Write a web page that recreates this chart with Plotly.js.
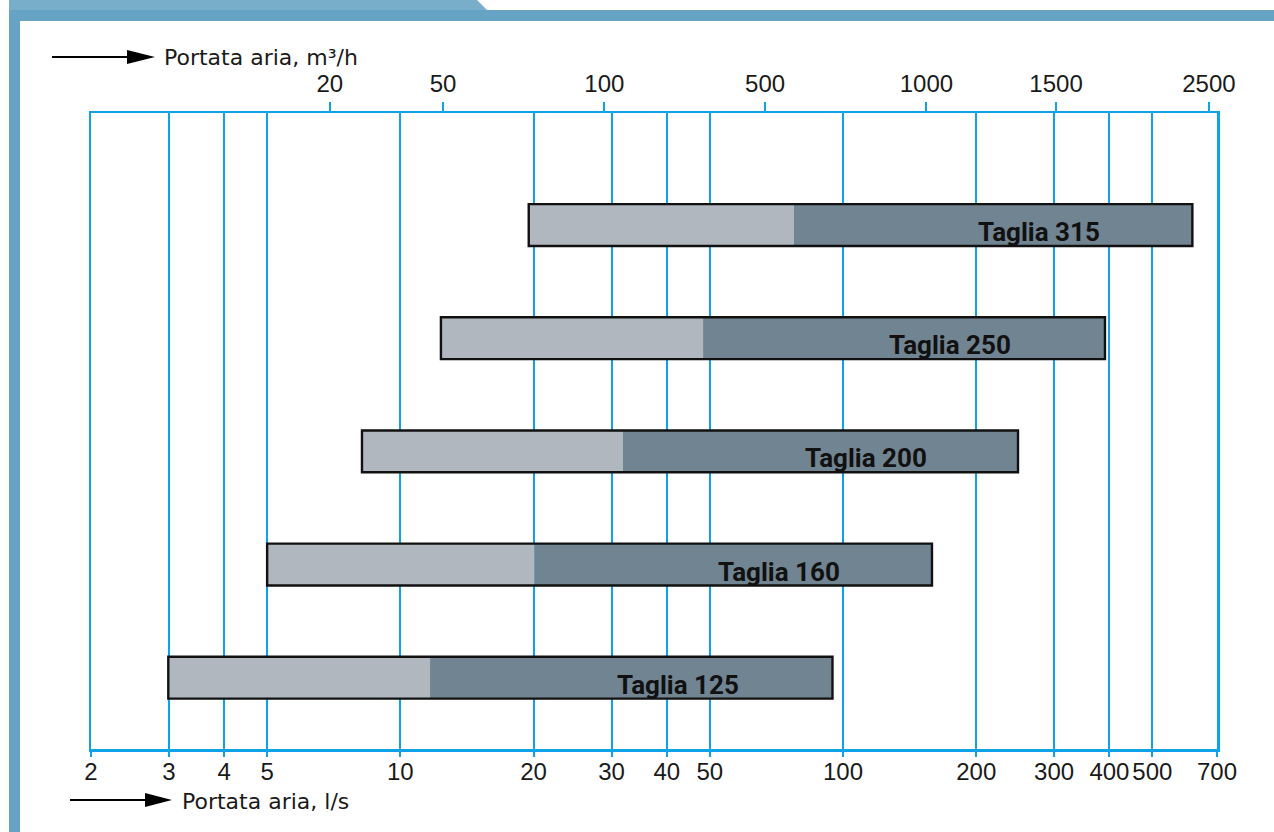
<!DOCTYPE html>
<html>
<head>
<meta charset="utf-8">
<script src="https://cdn.plot.ly/plotly-3.0.1.min.js"></script>
<style>
html,body{margin:0;padding:0;background:#fff;}
#chart{width:1274px;height:832px;}
</style>
</head>
<body>
<div id="chart"></div>
<script>
// ---- data (l/s) ----
var sizes = ['Taglia 125', 'Taglia 160', 'Taglia 200', 'Taglia 250', 'Taglia 315'];
var flowMin = [2.99, 5.0, 8.19, 12.35, 19.5];
var flowMid = [11.67, 20.1, 31.8, 48.3, 77.4];
var flowMax = [94.7, 158.9, 248.6, 390.8, 615.8];
var bottomTicks = [2, 3, 4, 5, 10, 20, 30, 40, 50, 100, 200, 300, 400, 500, 700];
var topTickText = ['20', '50', '100', '500', '1000', '1500', '2500'];
var topTickPos = [6.93, 12.49, 28.9, 66.7, 154.4, 303, 671];   // l/s positions of the m³/h labels

var blue = '#10a2e8';
var light = '#b0b7be';
var dark = '#718491';
var yIdx = sizes.map(function(_, i){ return i; });

var traces = [
  {type:'bar', orientation:'h', y:yIdx, base:flowMin,
   x:flowMin.map(function(v,i){return flowMid[i]-v;}),
   width:0.37, marker:{color:light, line:{width:0}}, hoverinfo:'skip', xaxis:'x', yaxis:'y'},
  {type:'bar', orientation:'h', y:yIdx, base:flowMid,
   x:flowMid.map(function(v,i){return flowMax[i]-v;}),
   width:0.37, marker:{color:dark, line:{width:0}}, hoverinfo:'skip', xaxis:'x', yaxis:'y'},
  {type:'bar', orientation:'h', y:yIdx, base:flowMin,
   x:flowMin.map(function(v,i){return flowMax[i]-v;}),
   width:0.37, marker:{color:'rgba(0,0,0,0)', line:{width:2.4, color:'#111'}}, hoverinfo:'skip', xaxis:'x', yaxis:'y'},
  // invisible trace to activate the top axis
  {type:'scatter', x:[2,700], y:[0,0], mode:'none', xaxis:'x2', yaxis:'y', hoverinfo:'skip', showlegend:false}
];

var W = 1274, H = 832, L = 91, R = 57, T = 113, B = 83;
var pw = W-L-R, ph = H-T-B;
function px(x){ return (x-L)/pw; }
function py(y){ return (H-B-y)/ph; }

var annotations = sizes.map(function(s,i){
  var lm = Math.log10(flowMid[i]), le = Math.log10(flowMax[i]);
  return {x: lm + 0.615*(le-lm), y: i, xref:'x', yref:'y', text: s, showarrow:false,
          yshift:-7, font:{family:'Roboto, sans-serif', size:26, color:'#111', weight:'bold'}};
});
annotations.push(
  {xref:'paper', yref:'paper', x:px(162), y:py(57), xanchor:'left', yanchor:'middle', showarrow:false,
   text:'Portata aria, m³/h', font:{family:'DejaVu Sans, sans-serif', size:22, color:'#1a1a1a'}},
  {xref:'paper', yref:'paper', x:px(180), y:py(801), xanchor:'left', yanchor:'middle', showarrow:false,
   text:'Portata aria, l/s', font:{family:'DejaVu Sans, sans-serif', size:22, color:'#1a1a1a'}}
);

var frameCol = '#66a3c4';
function tri(x0, x1, yc){
  return 'M '+px(x0)+','+py(yc-7)+' L '+px(x1)+','+py(yc)+' L '+px(x0)+','+py(yc+7)+' Z';
}
var shapes = [
  {type:'rect', xref:'paper', yref:'paper', x0:px(9), x1:px(20), y0:py(832), y1:py(10), fillcolor:frameCol, line:{width:0}, layer:'above'},
  {type:'rect', xref:'paper', yref:'paper', x0:px(9), x1:px(1274), y0:py(21), y1:py(10), fillcolor:frameCol, line:{width:0}, layer:'above'},
  {type:'path', xref:'paper', yref:'paper',
   path:'M '+px(9)+','+py(0)+' L '+px(477)+','+py(0)+' L '+px(487)+','+py(10)+' L '+px(9)+','+py(10)+' Z',
   fillcolor:'#79aecb', line:{width:0}, layer:'above'},
  // arrows
  {type:'line', xref:'paper', yref:'paper', x0:px(52), x1:px(130), y0:py(57), y1:py(57), line:{color:'#000', width:2}},
  {type:'path', xref:'paper', yref:'paper', path:tri(127, 155, 57), fillcolor:'#000', line:{width:0}},
  {type:'line', xref:'paper', yref:'paper', x0:px(70), x1:px(148), y0:py(800), y1:py(800), line:{color:'#000', width:2}},
  {type:'path', xref:'paper', yref:'paper', path:tri(145, 172, 800), fillcolor:'#000', line:{width:0}}
];

var layout = {
  width:W, height:H, margin:{l:L, r:R, t:T, b:B, pad:0},
  paper_bgcolor:'#fff', plot_bgcolor:'#fff',
  showlegend:false, barmode:'overlay',
  xaxis:{type:'log', range:[Math.log10(2), Math.log10(700)], tickmode:'array', tickvals:bottomTicks,
         ticktext:bottomTicks.map(String), showgrid:true, gridcolor:blue, gridwidth:2,
         ticks:'outside', ticklen:5, tickwidth:2, tickcolor:blue, ticklabelstandoff:-5,
         showline:true, linecolor:blue, linewidth:2.5, mirror:true, zeroline:false,
         tickfont:{family:'Liberation Sans, Arial, sans-serif', size:24, color:'#1a1a1a'}, fixedrange:true},
  xaxis2:{type:'log', range:[Math.log10(2), Math.log10(700)], overlaying:'x', side:'top', tickmode:'array',
          tickvals:topTickPos, ticktext:topTickText, showgrid:false, ticks:'outside', ticklen:10, tickwidth:2,
          tickcolor:blue, showline:false, zeroline:false,
          tickfont:{family:'Liberation Sans, Arial, sans-serif', size:24, color:'#1a1a1a'}, fixedrange:true},
  yaxis:{range:[-0.63, 4.99], showticklabels:false, ticks:'', showgrid:false, zeroline:false,
         showline:true, linecolor:blue, linewidth:2.5, mirror:true, fixedrange:true},
  annotations:annotations, shapes:shapes
};

Plotly.newPlot('chart', traces, layout, {staticPlot:true, displayModeBar:false});
</script>
</body>
</html>
